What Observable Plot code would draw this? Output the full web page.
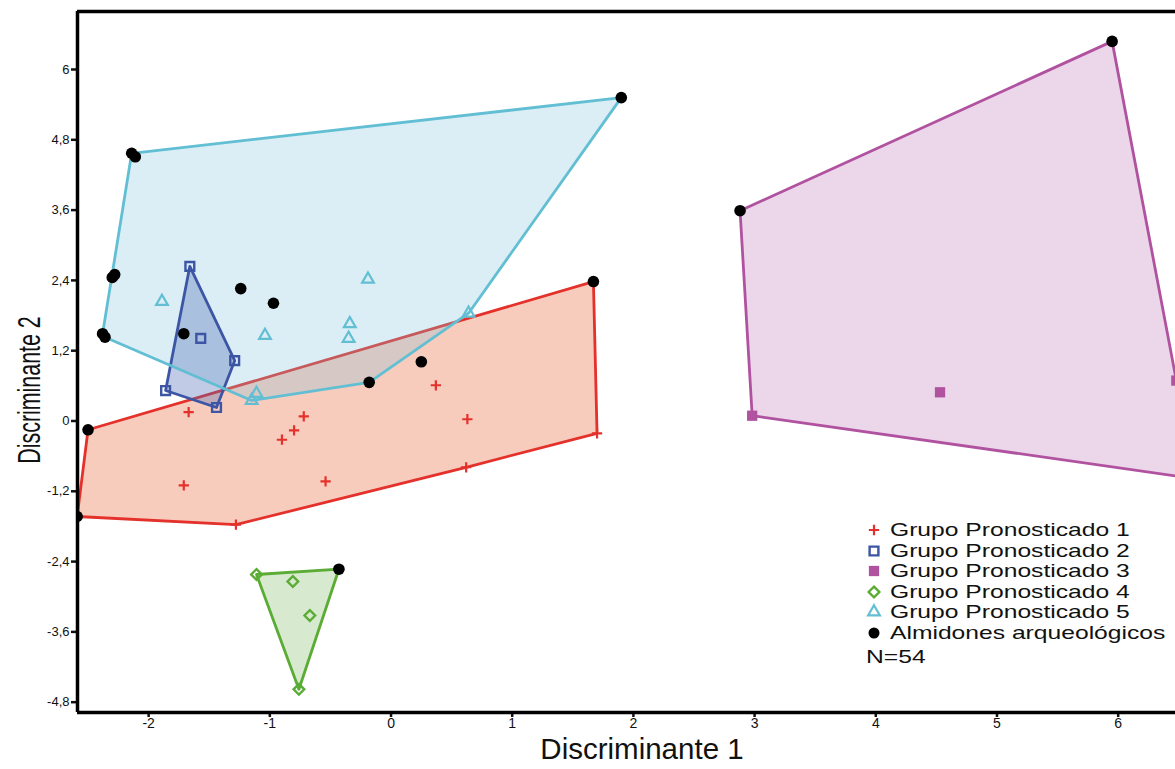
<!DOCTYPE html>
<html>
<head>
<meta charset="utf-8">
<script src="https://cdn.jsdelivr.net/npm/d3@7"></script>
<script src="https://cdn.jsdelivr.net/npm/@observablehq/plot@0.6"></script>
<style>
  html, body { margin: 0; padding: 0; background: #fff; overflow: hidden; }
  body { font-family: "Liberation Sans", Arial, sans-serif; color: #111; }
  #wrap { position: relative; width: 1175px; height: 769px; }
  .lab { position: absolute; white-space: nowrap; line-height: 0.75; }
  #legend { position: absolute; left: 862px; top: 520px; }
  #legend .row { height: 20.6px; line-height: 20.6px; font-size: 18.4px; white-space: nowrap; position: relative; padding-left: 28px; }
  #legend .row span { display: inline-block; transform: scaleX(1.34); transform-origin: left center; }
  #legend .row svg { position: absolute; left: 0; top: 0; }
</style>
</head>
<body>
<div id="wrap"></div>
<script>
// ---- tick values ----
const xTicks = [-2, -1, 0, 1, 2, 3, 4, 5, 6];
const yTicks = [-4.8, -3.6, -2.4, -1.2, 0, 1.2, 2.4, 3.6, 4.8, 6];

// ---- predicted groups (Discriminante 1, Discriminante 2) ----
const group1 = [[-1.67, 0.15], [-0.90, -0.32], [-0.80, -0.16], [-0.72, 0.08], [-1.71, -1.10],
                [-0.54, -1.03], [0.37, 0.61], [0.63, 0.03], [0.62, -0.79], [1.70, -0.21], [-1.28, -1.77]];
const group2 = [[-1.66, 2.64], [-1.57, 1.41], [-1.29, 1.03], [-1.44, 0.23], [-1.86, 0.52]];
const group3 = [[2.98, 0.09], [4.53, 0.49], [6.48, 0.69], [6.62, -0.98]];
const group4 = [[-1.11, -2.62], [-0.81, -2.74], [-0.67, -3.32], [-0.76, -4.58]];
const group5 = [[-1.89, 2.04], [-1.04, 1.46], [-0.34, 1.66], [-0.35, 1.41], [-0.19, 2.42],
                [-1.15, 0.35], [-1.11, 0.47], [0.64, 1.84]];

// ---- archaeological starches: [D1, D2, predicted group] ----
const archaeological = [
  [-2.50, -0.15, 1], [-2.59, -1.63, 1], [1.67, 2.38, 1], [0.25, 1.01, 1],
  [-1.71, 1.49, 2],
  [2.88, 3.59, 3], [5.95, 6.48, 3],
  [-0.43, -2.53, 4],
  [-2.14, 4.57, 5], [-2.11, 4.51, 5], [1.90, 5.52, 5], [-2.30, 2.45, 5], [-2.28, 2.50, 5],
  [-2.38, 1.49, 5], [-2.36, 1.43, 5], [-1.24, 2.26, 5], [-0.97, 2.01, 5], [-0.18, 0.66, 5]
];

const groupNames = ["Grupo Pronosticado 1", "Grupo Pronosticado 2", "Grupo Pronosticado 3",
                    "Grupo Pronosticado 4", "Grupo Pronosticado 5"];
const archName = "Almidones arqueológicos";
const nLabel = "N=54";
const xLabel = "Discriminante 1";
const yLabel = "Discriminante 2";

// ---- styles ----
const groups = [group1, group2, group3, group4, group5];
const styles = [
  {stroke: "#e4312b", fill: "#ee7f5a", fo: 0.40, symbol: "plus", r: 3.4, filled: false, sw: 2.2},
  {stroke: "#3c56a5", fill: "#4d6bb5", fo: 0.35, symbol: "square2", r: 5.6, filled: false, sw: 2.4},
  {stroke: "#b0529f", fill: "#b35aa6", fo: 0.25, symbol: "square", r: 5.8, filled: true, sw: 2},
  {stroke: "#5aac34", fill: "#6ab04c", fo: 0.27, symbol: "diamond2", r: 4.8, filled: false, sw: 2.4},
  {stroke: "#62bfd3", fill: "#7cc3dc", fo: 0.28, symbol: "triangle2", r: 5.6, filled: false, sw: 2.2}
];

const hullPts = groups.map((g, i) => g.concat(archaeological.filter(a => a[2] === i + 1).map(a => [a[0], a[1]])));

const fillMark = i => Plot.hull(hullPts[i], {x: d => d[0], y: d => d[1], fill: styles[i].fill, fillOpacity: styles[i].fo, stroke: "none", clip: true});
const strokeMark = i => Plot.hull(hullPts[i], {x: d => d[0], y: d => d[1], fill: "none", stroke: styles[i].stroke, strokeWidth: 2.8, strokeLinejoin: "round", clip: true});
const dotMark = i => Plot.dot(groups[i], {
  x: d => d[0], y: d => d[1], symbol: styles[i].symbol, r: styles[i].r,
  stroke: styles[i].filled ? "none" : styles[i].stroke,
  fill: styles[i].filled ? styles[i].stroke : "none",
  strokeWidth: styles[i].sw, clip: true
});

const xDomain = [-2.587, 6.473];
const yDomain = [-4.976, 6.99];
const fmt = d => String(d).replace(".", ",");

const chart = Plot.plot({
  width: 1175,
  height: 769,
  marginTop: 11,
  marginBottom: 57,
  marginLeft: 77,
  marginRight: 0,
  style: {fontFamily: "'Liberation Sans', Arial, sans-serif", background: "#fff", color: "#111"},
  x: {domain: xDomain},
  y: {domain: yDomain},
  marks: [
    fillMark(0), strokeMark(0),
    fillMark(4),
    fillMark(1), strokeMark(1),
    strokeMark(4),
    fillMark(2), strokeMark(2),
    fillMark(3), strokeMark(3),
    dotMark(0), dotMark(1), dotMark(2), dotMark(3), dotMark(4),
    Plot.dot(archaeological, {x: d => d[0], y: d => d[1], r: 5.8, fill: "#000", stroke: "none", clip: true}),
    Plot.axisX({ticks: xTicks, tickFormat: d => String(d), tickSize: 5, tickPadding: 1, strokeWidth: 2.5, fontSize: 14, label: null}),
    Plot.axisY({ticks: yTicks, tickFormat: fmt, tickSize: 6, tickPadding: 2, strokeWidth: 2.5, fontSize: 13, label: null}),
    Plot.ruleX([xDomain[0]], {stroke: "#000", strokeWidth: 3.5}),
    Plot.ruleY([yDomain[0]], {stroke: "#000", strokeWidth: 3.5}),
    Plot.ruleY([yDomain[1]], {stroke: "#000", strokeWidth: 3.5})
  ]
});

const wrap = document.getElementById("wrap");
wrap.appendChild(chart);

// axis titles
const xl = document.createElement("div");
xl.className = "lab";
xl.textContent = xLabel;
xl.style.cssText = "left:642px;top:748.5px;font-size:29.5px;transform:translate(-50%,-50%);";
wrap.appendChild(xl);

const yl = document.createElement("div");
yl.className = "lab";
yl.textContent = yLabel;
yl.style.cssText = "left:30px;top:390px;font-size:31px;transform:translate(-50%,-50%) rotate(-90deg) scaleX(0.69);";
wrap.appendChild(yl);

// legend
const legend = document.createElement("div");
legend.id = "legend";
const symTypes = {plus: d3.symbolPlus, square2: d3.symbolSquare2, square: d3.symbolSquare, diamond2: d3.symbolDiamond2, triangle2: d3.symbolTriangle2, circle: d3.symbolCircle};
function row(label, st) {
  const r = document.createElement("div");
  r.className = "row";
  const size = st.r * st.r * Math.PI;
  const path = d3.symbol(symTypes[st.symbol], size)();
  r.innerHTML = `<svg width="24" height="20" viewBox="-12 -10 24 20"><path d="${path}" fill="${st.filled ? st.stroke : "none"}" stroke="${st.filled ? "none" : st.stroke}" stroke-width="${st.sw}"/></svg>`;
  const s = document.createElement("span");
  s.textContent = label;
  r.appendChild(s);
  return r;
}
groupNames.forEach((n, i) => legend.appendChild(row(n, styles[i])));
legend.appendChild(row(archName, {symbol: "circle", r: 5.5, filled: true, stroke: "#000", sw: 0}));
const nr = document.createElement("div");
nr.className = "row";
nr.style.cssText = "padding-left:4px;margin-top:3px;font-size:18.4px;";
const ns = document.createElement("span");
ns.textContent = nLabel;
nr.appendChild(ns);
legend.appendChild(nr);
wrap.appendChild(legend);
</script>
</body>
</html>
